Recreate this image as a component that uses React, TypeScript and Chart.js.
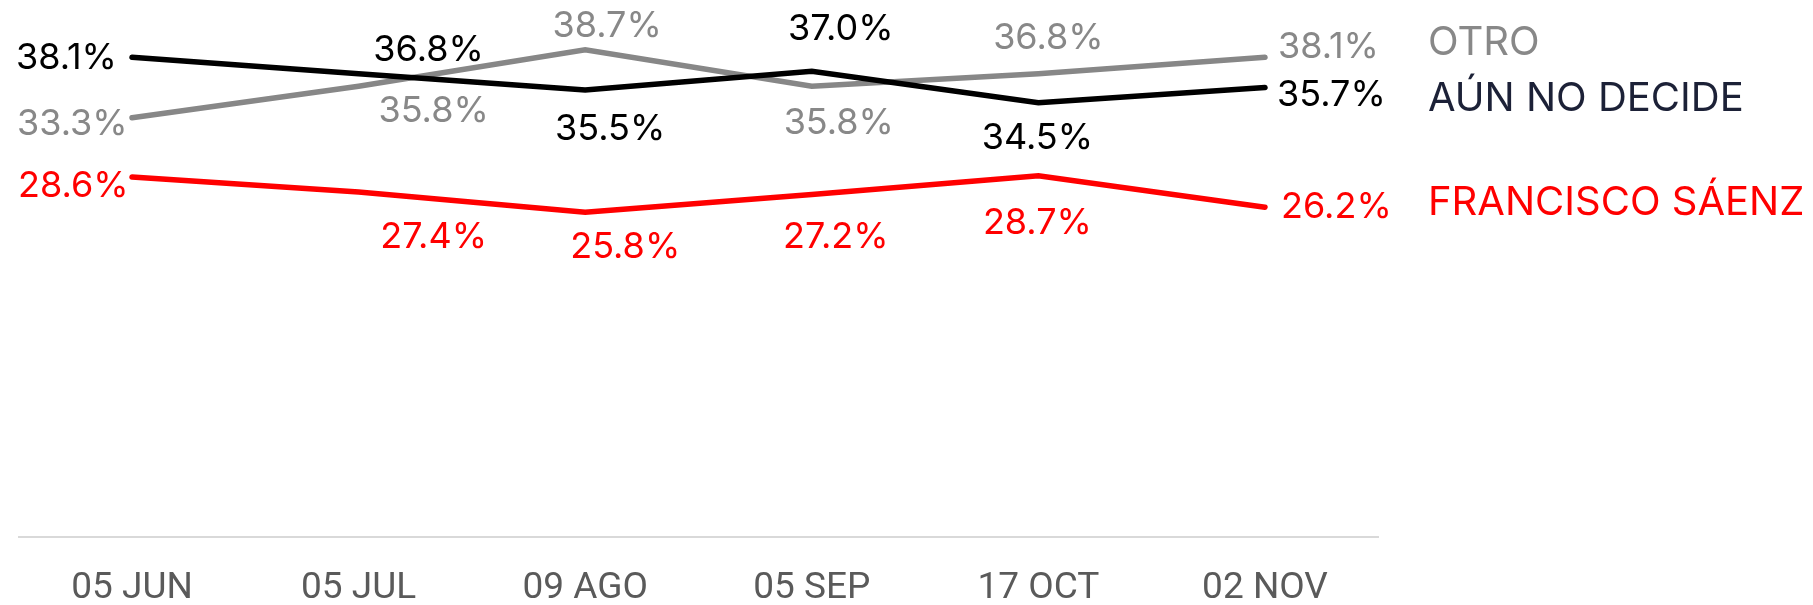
import React, { useEffect, useRef } from 'react';
import { Chart, registerables } from 'chart.js';

Chart.register(...registerables);

// ---- data ----
const CATEGORIES = ['05 JUN', '05 JUL', '09 AGO', '05 SEP', '17 OCT', '02 NOV'];
const OTRO = [33.3, 35.8, 38.7, 35.8, 36.8, 38.1];
const AUN_NO_DECIDE = [38.1, 36.8, 35.5, 37.0, 34.5, 35.7];
const FRANCISCO_SAENZ = [28.6, 27.4, 25.8, 27.2, 28.7, 26.2];
const SERIES_NAMES = ['FRANCISCO SÁENZ', 'AÚN NO DECIDE', 'OTRO'];

// ---- styles / label placement (relative to each point, in px) ----
type Place = [number, number, CanvasTextAlign];
const RED_LABEL_PLACE: Place[] = [[-114, 6.5, 'left'], [75, 42.4, 'center'], [40, 33, 'center'], [24, 40, 'center'], [-1, 45, 'center'], [16, -2, 'left']];
const BLACK_LABEL_PLACE: Place[] = [[-116, -1, 'left'], [70, -26, 'center'], [25, 37, 'center'], [29, -44, 'center'], [-1, 33, 'center'], [12, 5.5, 'left']];
const GRAY_LABEL_PLACE: Place[] = [[-115, 3.7, 'left'], [75, 23, 'center'], [22, -26, 'center'], [27, 34.5, 'center'], [10, -38, 'center'], [13, -12.3, 'left']];
const LEGEND_DY = [-7.2, 9.4, -17.3];

const LINE_COLORS = ['#ff0000', '#000000', '#878787'];
const LABEL_COLORS = ['#ff0000', '#000000', '#888888'];
const LEGEND_COLORS = ['#ff0000', '#1c2137', '#888888'];
const PLACES = [RED_LABEL_PLACE, BLACK_LABEL_PLACE, GRAY_LABEL_PLACE];

const LABEL_FONT_SIZE = 36;
const LEGEND_FONT_SIZE = 40;
const FONT = 'Inter';

const labelsPlugin = {
  id: 'customLabels',
  afterDatasetsDraw(chart: any) {
    const ctx: CanvasRenderingContext2D = chart.ctx;
    const area = chart.chartArea;
    ctx.save();
    chart.data.datasets.forEach((ds: any, di: number) => {
      const meta = chart.getDatasetMeta(di);
      const place = PLACES[di];
      ctx.fillStyle = LABEL_COLORS[di];
      ctx.font = `400 ${LABEL_FONT_SIZE}px ${FONT}`;
      ctx.textBaseline = 'alphabetic';
      const capHalf = LABEL_FONT_SIZE * 0.727 / 2;
      meta.data.forEach((pt: any, i: number) => {
        const [dx, dy, align] = place[i];
        ctx.textAlign = align;
        ctx.fillText(`${ds.data[i].toFixed(1)}%`, pt.x + dx, pt.y + dy + capHalf);
      });
      // series name to the right of the last point
      const last = meta.data[meta.data.length - 1];
      ctx.fillStyle = LEGEND_COLORS[di];
      ctx.font = `400 ${LEGEND_FONT_SIZE}px ${FONT}`;
      ctx.textAlign = 'left';
      ctx.fillText(SERIES_NAMES[di], area.right + 49.7, last.y + LEGEND_DY[di] + LEGEND_FONT_SIZE * 0.727 / 2);
    });
    ctx.restore();
  },
};

export default function App() {
  const canvasRef = useRef<HTMLCanvasElement | null>(null);

  useEffect(() => {
    if (!canvasRef.current) return;
    const seriesValues = [FRANCISCO_SAENZ, AUN_NO_DECIDE, OTRO];
    const chart = new Chart(canvasRef.current, {
      type: 'line',
      data: {
        labels: CATEGORIES,
        datasets: seriesValues.map((vals, i) => ({
          label: SERIES_NAMES[i],
          data: vals,
          borderColor: LINE_COLORS[i],
          backgroundColor: LINE_COLORS[i],
          borderWidth: 5.5,
          borderCapStyle: 'round' as CanvasLineCap,
          borderJoinStyle: 'miter' as CanvasLineJoin,
          pointRadius: 0,
          pointHoverRadius: 0,
          tension: 0,
          fill: false,
        })),
      },
      options: {
        animation: false,
        responsive: false,
        maintainAspectRatio: false,
        devicePixelRatio: 1,
        layout: { padding: { left: 18.7, right: 434.7, top: 8.2, bottom: -34.8 } },
        plugins: { legend: { display: false }, tooltip: { enabled: false } },
        events: [],
        scales: {
          x: {
            offset: true,
            grid: { display: false, drawTicks: false },
            border: { display: true, color: '#d9d9d9', width: 2 },
            ticks: {
              color: '#5a5a5a',
              padding: 32.8,
              font: { family: 'Roboto', size: 37, lineHeight: 1 },
              maxRotation: 0,
              autoSkip: false,
            },
          },
          y: { display: false, min: 0, max: 42 },
        },
      },
      plugins: [labelsPlugin],
    });
    return () => chart.destroy();
  }, []);

  return (
    <div style={{ position: 'fixed', left: 0, top: 0, width: 1813, height: 605, background: '#fff', overflow: 'hidden' }}>
      <canvas ref={canvasRef} width={1813} height={605} style={{ width: 1813, height: 605, display: 'block' }} />
    </div>
  );
}
